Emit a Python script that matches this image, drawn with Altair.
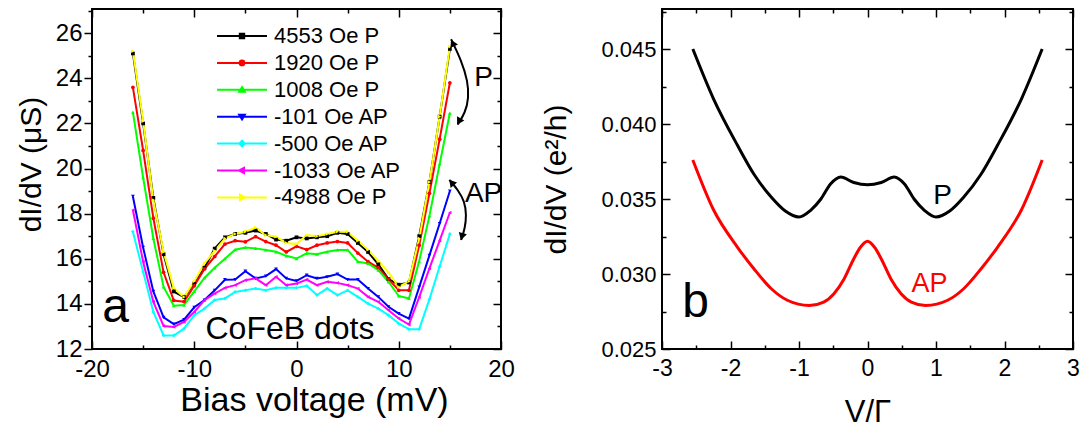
import altair as alt
import pandas as pd

FONT = "Liberation Sans"

# ---------------- panel a: measured dI/dV curves ----------------
bias_mV = [-16, -15, -14, -13, -12, -11, -10, -9, -8, -7, -6, -5, -4, -3, -2, -1,
           0, 1, 2, 3, 4, 5, 6, 7, 8, 9, 10, 11, 12, 13, 14, 15]

series_names = ["4553 Oe P", "1920 Oe P", "1008 Oe P", "-101 Oe AP",
                "-500 Oe AP", "-1033 Oe AP", "-4988 Oe P"]
series_colors = ["#000000", "#ff0000", "#00ff00", "#0000ff",
                 "#00ffff", "#ff00ff", "#ffff00"]
series_shapes = ["square", "circle", "triangle-up", "triangle-down",
                 "diamond", "triangle-left", "triangle-right"]

didv_4553 = [25.1, 22.0, 18.7, 16.2, 14.55, 14.3, 14.9, 15.6, 16.45, 16.95, 17.1, 17.15, 17.25, 17.1, 16.85, 16.8,
             16.95, 16.9, 16.95, 17.0, 17.15, 17.1, 16.7, 16.3, 15.75, 15.1, 14.85, 14.95, 17.0, 19.4, 22.3, 25.3]
didv_1920 = [23.6, 20.8, 17.8, 15.4, 14.15, 14.1, 14.8, 15.55, 16.1, 16.65, 16.8, 16.75, 16.98, 16.76, 16.6, 16.3,
             16.55, 16.4, 16.6, 16.7, 16.76, 16.7, 16.25, 15.87, 15.6, 15.1, 14.6, 14.6, 16.6, 18.9, 21.3, 23.8]
didv_1008 = [22.5, 19.6, 16.9, 14.75, 13.92, 13.95, 14.55, 15.15, 15.6, 16.0, 16.4, 16.5, 16.46, 16.39, 16.31, 16.13,
             16.01, 16.24, 16.2, 16.31, 16.39, 16.39, 15.87, 15.79, 15.5, 14.98, 14.35, 14.24, 15.9, 17.9, 20.2, 22.46]
didv_m101 = [18.76, 16.5, 14.55, 13.4, 13.1, 13.3, 13.85, 14.17, 14.6, 15.07, 15.08, 15.45, 15.13, 15.23, 15.54, 15.13,
             15.02, 15.27, 15.13, 15.2, 15.32, 15.08, 15.08, 14.68, 14.31, 13.87, 13.57, 13.35, 14.74, 16.15, 17.56, 19.0]
didv_m500 = [17.2, 15.42, 13.64, 12.6, 12.6, 12.9, 13.5, 13.79, 14.17, 14.24, 14.53, 14.6, 14.68, 14.6, 14.71, 14.71,
             14.71, 14.8, 14.39, 14.68, 14.39, 14.6, 14.31, 14.01, 13.79, 13.5, 13.13, 12.88, 12.88, 14.2, 15.66, 17.1]
didv_m1033 = [18.16, 15.87, 14.09, 13.02, 12.98, 13.2, 13.64, 14.17, 14.46, 14.71, 14.83, 15.05, 15.13, 14.83, 15.2, 14.83,
              14.9, 15.08, 14.83, 14.98, 14.93, 14.83, 14.68, 14.31, 14.09, 13.72, 13.35, 13.08, 14.3, 15.57, 16.8, 18.05]
didv_m4988 = [25.2, 22.1, 18.6, 16.3, 14.7, 14.3, 15.0, 15.8, 16.35, 16.9, 17.1, 17.2, 17.38, 17.05, 16.98, 16.7,
              16.65, 17.05, 17.0, 17.1, 17.2, 17.2, 16.8, 16.4, 15.9, 15.4, 14.75, 15.0, 16.9, 19.4, 22.3, 25.4]
series_values = [didv_4553, didv_1920, didv_1008, didv_m101, didv_m500, didv_m1033, didv_m4988]

# curved double arrows (annotation paths, data coordinates)
arrow_id = ["P", "P", "P", "P", "P", "P", "AP", "AP", "AP", "AP", "AP", "AP"]
arrow_x = [15.12, 16.15, 16.75, 16.85, 16.5, 15.77, 14.95, 15.8, 16.45, 16.62, 16.48, 16.1]
arrow_y = [25.73, 24.76, 23.87, 23.13, 22.47, 21.95, 19.50, 19.05, 18.53, 17.94, 17.35, 16.83]
head_x = [15.27, 15.88, 15.16, 16.17]
head_y = [25.56, 22.08, 19.38, 16.98]
head_angle = [335, 210, 320, 196]

# ---------------- panel b: model curves ----------------
p_x = [-2.55, -2.25, -1.9, -1.65, -1.4, -1.2, -1.0, -0.83, -0.68, -0.54, -0.39, -0.2, 0.0,
       0.2, 0.39, 0.54, 0.68, 0.83, 1.0, 1.2, 1.4, 1.65, 1.9, 2.25, 2.55]
p_y = [0.0450, 0.0417, 0.0386, 0.0366, 0.0351, 0.0342, 0.0338, 0.03425, 0.0350, 0.0360, 0.03647, 0.0361, 0.03595,
       0.0361, 0.03647, 0.0360, 0.0350, 0.03425, 0.0338, 0.0342, 0.0351, 0.0366, 0.0386, 0.0417, 0.0450]
ap_x = [-2.55, -2.25, -1.9, -1.65, -1.4, -1.17, -0.85, -0.64, -0.49, -0.34, -0.2, -0.1, 0.0,
        0.1, 0.2, 0.34, 0.49, 0.64, 0.85, 1.17, 1.4, 1.65, 1.9, 2.25, 2.55]
ap_y = [0.0376, 0.0343, 0.0318, 0.0303, 0.0290, 0.02825, 0.0279, 0.02813, 0.02869, 0.02969, 0.03102, 0.0318, 0.03218,
        0.0318, 0.03102, 0.02969, 0.02869, 0.02813, 0.0279, 0.02825, 0.0290, 0.0303, 0.0318, 0.0343, 0.0376]

# ---------------- tables ----------------
rows = []
for name, shp, vals in zip(series_names, series_shapes, series_values):
    for xv, yv in zip(bias_mV, vals):
        rows.append({"bias": xv, "didv": yv, "series": name, "mk": shp})
df_a = pd.DataFrame(rows)
df_arc = pd.DataFrame({"bias": arrow_x, "didv": arrow_y, "arrow": arrow_id,
                       "i": list(range(len(arrow_x)))})
df_head = pd.DataFrame({"bias": head_x, "didv": head_y, "ang": head_angle})
df_p = pd.DataFrame({"v": p_x, "g": p_y})
df_ap = pd.DataFrame({"v": ap_x, "g": ap_y})

W_L, W_R, H = 409, 411, 340

xa = alt.Scale(domain=[-20, 20], nice=False, zero=False)
ya = alt.Scale(domain=[12, 27.07], nice=False, zero=False)
xb = alt.Scale(domain=[-3, 3], nice=False, zero=False)
yb = alt.Scale(domain=[0.025, 0.04767], nice=False, zero=False)


def tax(orient, values, size, offset=0):
    return alt.Axis(orient=orient, values=values, tickSize=size, tickWidth=1.5,
                    tickColor="black", labels=False, domain=False, grid=False,
                    title=None, offset=offset)


def tick_layers(df, xf, yf, xs, ys, pairs):
    out = []
    for xaxis, yaxis in pairs:
        out.append(alt.Chart(df).mark_point(opacity=0).encode(
            x=alt.X(xf, scale=xs, axis=xaxis),
            y=alt.Y(yf, scale=ys, axis=yaxis)))
    return out


def text_layer(df, xf, yf, xs, ys, size, color="black"):
    return alt.Chart(df).mark_text(font=FONT, fontSize=size, color=color,
                                   align="center", baseline="alphabetic").encode(
        x=alt.X(xf, scale=xs, axis=None), y=alt.Y(yf, scale=ys, axis=None),
        text="t:N")


# legend symbol: a line with the series marker in its middle
marker_paths = [
    "M-1.72,-0.22h0.44v0.44h-0.44z",
    "M-1.5,-0.24a0.24,0.24 0 1,0 0.001,0z",
    "M-1.5,-0.27L-1.22,0.2L-1.78,0.2z",
    "M-1.5,0.27L-1.22,-0.2L-1.78,-0.2z",
    "M-1.5,-0.28L-1.24,0L-1.5,0.28L-1.76,0z",
    "M-1.78,0L-1.3,-0.26L-1.3,0.26z",
    "M-1.22,0L-1.7,-0.26L-1.7,0.26z",
]
shape_expr = "'M-4,0H1'"
fill_expr = "'transparent'"
for name, mp, col in zip(series_names[::-1], marker_paths[::-1], series_colors[::-1]):
    shape_expr = f"datum.value === '{name}' ? 'M-4,0H1{mp}' : " + shape_expr
    fill_expr = f"datum.value === '{name}' ? '{col}' : " + fill_expr

legend_a = alt.Legend(
    title=None, orient="none", legendX=154, legendY=16, padding=0,
    symbolType={"expr": shape_expr}, symbolFillColor={"expr": fill_expr},
    symbolSize=400, symbolStrokeWidth=2,
    labelFontSize=22, labelFont=FONT, labelColor="black", labelOffset=6,
    rowPadding=4.9,
)

color_a = alt.Color("series:N", scale=alt.Scale(domain=series_names, range=series_colors),
                    legend=legend_a)

lines_a = alt.Chart(df_a).mark_line(strokeWidth=2).encode(
    x=alt.X("bias:Q", scale=xa, axis=alt.Axis(
        orient="bottom", values=[-20, -10, 0, 10, 20], labelExpr="'' + datum.value",
        ticks=False, tickSize=0, domain=False, grid=False, labelPadding=8,
        labelFontSize=24, labelFlush=False, title="Bias voltage (mV)",
        titleFontSize=34, titlePadding=2, titleX=222)),
    y=alt.Y("didv:Q", scale=ya, axis=alt.Axis(
        orient="left", values=[12, 14, 16, 18, 20, 22, 24, 26], tickSize=8, tickWidth=1.5,
        domain=False, grid=False, labelPadding=2, labelFontSize=24,
        title="dI/dV (μS)", titleFontSize=30, titlePadding=9, titleY=155)),
    color=color_a,
)

pts_a = alt.Chart(df_a).mark_point(filled=True, size=14, opacity=1).encode(
    x=alt.X("bias:Q", scale=xa, axis=None),
    y=alt.Y("didv:Q", scale=ya, axis=None),
    color=alt.Color("series:N", scale=alt.Scale(domain=series_names, range=series_colors), legend=None),
    shape=alt.Shape("mk:N", scale=None),
)

arcs_a = alt.Chart(df_arc).mark_line(color="black", strokeWidth=2, interpolate="basis").encode(
    x=alt.X("bias:Q", scale=xa, axis=None),
    y=alt.Y("didv:Q", scale=ya, axis=None),
    detail="arrow:N", order="i:Q")

heads_a = alt.Chart(df_head).mark_point(shape="triangle-up", filled=True, color="black",
                                         size=70, opacity=1).encode(
    x=alt.X("bias:Q", scale=xa, axis=None),
    y=alt.Y("didv:Q", scale=ya, axis=None),
    angle=alt.Angle("ang:Q", scale=None))

txt_a = [
    text_layer(pd.DataFrame({"bias": [-17.7], "didv": [13.2], "t": ["a"]}), "bias:Q", "didv:Q", xa, ya, 48),
    text_layer(pd.DataFrame({"bias": [-0.64], "didv": [12.46], "t": ["CoFeB dots"]}), "bias:Q", "didv:Q", xa, ya, 32),
    text_layer(pd.DataFrame({"bias": [18.3, 18.3], "didv": [23.64, 18.53], "t": ["P", "AP"]}), "bias:Q", "didv:Q", xa, ya, 28),
]

ya_major = [12, 14, 16, 18, 20, 22, 24, 26]
ya_minor = [13, 15, 17, 19, 21, 23, 25, 27]
xa_major = [-20, -10, 0, 10, 20]
xa_minor = [-15, -5, 5, 15]
ticks_a = tick_layers(df_a, "bias:Q", "didv:Q", xa, ya, [
    (tax("top", xa_major, 8, -H), tax("left", ya_minor, 4)),
    (tax("top", xa_minor, 4, -H), tax("left", ya_major, 8, -W_L)),
    (tax("bottom", xa_major, 8, -H), tax("left", ya_minor, 4, -W_L)),
    (tax("bottom", xa_minor, 4, -H), None),
])

panel_a = alt.layer(lines_a, pts_a, arcs_a, heads_a, *txt_a, *ticks_a).resolve_axis(
    x="independent", y="independent").properties(width=W_L, height=H)

# ---------------- panel b ----------------
line_p = alt.Chart(df_p).mark_line(color="black", strokeWidth=3, interpolate="monotone").encode(
    x=alt.X("v:Q", scale=xb, axis=alt.Axis(
        orient="bottom", values=[-3, -2, -1, 0, 1, 2, 3], labelExpr="'' + datum.value",
        ticks=False, tickSize=0, domain=False, grid=False, labelPadding=8,
        labelFontSize=23, labelFlush=False, title="V/Γ", titleFontSize=31, titlePadding=17)),
    y=alt.Y("g:Q", scale=yb, axis=alt.Axis(
        orient="left", values=[0.025, 0.03, 0.035, 0.04, 0.045], format=".3f",
        ticks=False, tickSize=0, domain=False, grid=False, labelPadding=6,
        labelFontSize=22, title="dI/dV (e²/h)", titleFontSize=30, titlePadding=29)),
)
line_ap = alt.Chart(df_ap).mark_line(color="#ff0000", strokeWidth=3, interpolate="monotone").encode(
    x=alt.X("v:Q", scale=xb, axis=None), y=alt.Y("g:Q", scale=yb, axis=None))

txt_b = [
    text_layer(pd.DataFrame({"v": [-2.51], "g": [0.02713], "t": ["b"]}), "v:Q", "g:Q", xb, yb, 48),
    text_layer(pd.DataFrame({"v": [1.095], "g": [0.03469], "t": ["P"]}), "v:Q", "g:Q", xb, yb, 28),
    text_layer(pd.DataFrame({"v": [0.905], "g": [0.0288], "t": ["AP"]}), "v:Q", "g:Q", xb, yb, 27, "#ff0000"),
]

yb_major = [0.025, 0.03, 0.035, 0.04, 0.045]
yb_minor = [0.0275, 0.0325, 0.0375, 0.0425, 0.0475]
xb_major = [-3, -2, -1, 0, 1, 2, 3]
xb_minor = [-2.5, -1.5, -0.5, 0.5, 1.5, 2.5]
ticks_b = tick_layers(df_p, "v:Q", "g:Q", xb, yb, [
    (tax("top", xb_major, 8, -H), tax("right", yb_major, 8, -W_R)),
    (tax("top", xb_minor, 4, -H), tax("right", yb_minor, 4, -W_R)),
    (tax("bottom", xb_major, 8, -H), tax("left", yb_major, 8, -W_R)),
    (tax("bottom", xb_minor, 4, -H), tax("left", yb_minor, 4, -W_R)),
])

panel_b = alt.layer(line_p, line_ap, *txt_b, *ticks_b).resolve_axis(
    x="independent", y="independent").properties(width=W_R, height=H)

chart = alt.hconcat(panel_a, panel_b, spacing=24).properties(
    padding={"left": 15, "top": 7, "right": 5, "bottom": 5}
).configure_view(stroke="black", strokeWidth=2).configure_axis(
    labelFont=FONT, titleFont=FONT, labelColor="black", titleColor="black",
    titleFontWeight="normal", tickColor="black", grid=False
).configure_text(font=FONT)

chart.save("out.html", embed_options={"renderer": "svg", "actions": False})
